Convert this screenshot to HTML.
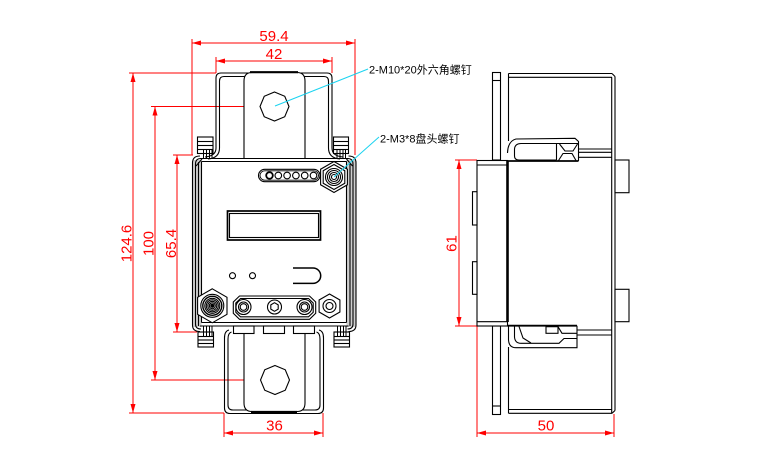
<!DOCTYPE html>
<html><head><meta charset="utf-8"><style>
html,body{margin:0;padding:0;background:#fff;}
svg{display:block;}
</style></head><body>
<svg width="771" height="473" viewBox="0 0 771 473" xmlns="http://www.w3.org/2000/svg">
<rect x="0" y="0" width="771" height="473" fill="#fff"/>

<!-- ================= DIMENSIONS (red) ================= -->
<g stroke="#ff0000" stroke-width="1" fill="none">
  <!-- 59.4 -->
  <line x1="192" y1="43" x2="355" y2="43"/>
  <line x1="192" y1="39" x2="192" y2="155"/>
  <line x1="355" y1="39" x2="355" y2="155"/>
  <!-- 42 -->
  <line x1="216" y1="61" x2="332" y2="61"/>
  <line x1="216" y1="57" x2="216" y2="73"/>
  <line x1="332" y1="57" x2="332" y2="73"/>
  <!-- 124.6 -->
  <line x1="133" y1="73" x2="133" y2="413"/>
  <line x1="129" y1="73" x2="216" y2="73"/>
  <line x1="129" y1="413" x2="224" y2="413"/>
  <!-- 100 -->
  <line x1="155" y1="106.5" x2="155" y2="380"/>
  <line x1="151" y1="106.5" x2="261" y2="106.5"/>
  <line x1="151" y1="380" x2="260" y2="380"/>
  <!-- 65.4 -->
  <line x1="177" y1="155" x2="177" y2="332"/>
  <line x1="173" y1="155" x2="193" y2="155"/>
  <line x1="173" y1="332" x2="197" y2="332"/>
  <!-- 36 -->
  <line x1="224" y1="433" x2="323" y2="433"/>
  <line x1="224" y1="413" x2="224" y2="437"/>
  <line x1="323" y1="413" x2="323" y2="437"/>
  <!-- 61 -->
  <line x1="459" y1="160" x2="459" y2="326"/>
  <line x1="455" y1="160" x2="477" y2="160"/>
  <line x1="455" y1="326" x2="477" y2="326"/>
  <!-- 50 -->
  <line x1="477" y1="433" x2="614" y2="433"/>
  <line x1="477" y1="326" x2="477" y2="437"/>
  <line x1="614" y1="414" x2="614" y2="437"/>
</g>
<g fill="#ff0000" stroke="none">
  <polygon points="192,43 201,40.5 201,45.5"/><polygon points="355,43 346,40.5 346,45.5"/>
  <polygon points="216,61 225,58.5 225,63.5"/><polygon points="332,61 323,58.5 323,63.5"/>
  <polygon points="224,433 233,430.5 233,435.5"/><polygon points="323,433 314,430.5 314,435.5"/>
  <polygon points="477,433 486,430.5 486,435.5"/><polygon points="614,433 605,430.5 605,435.5"/>
  <polygon points="133,73 130.5,82 135.5,82"/><polygon points="133,413 130.5,404 135.5,404"/>
  <polygon points="155,106.5 152.5,115.5 157.5,115.5"/><polygon points="155,380 152.5,371 157.5,371"/>
  <polygon points="177,155 174.5,164 179.5,164"/><polygon points="177,332 174.5,323 179.5,323"/>
  <polygon points="459,160 456.5,169 461.5,169"/><polygon points="459,326 456.5,317 461.5,317"/>
</g>
<g fill="#ff0000" font-family="'Liberation Sans', sans-serif" font-size="15" text-anchor="middle">
  <text x="274" y="41">59.4</text>
  <text x="274" y="59">42</text>
  <text x="274.5" y="430.5">36</text>
  <text x="546" y="430.5">50</text>
  <text transform="translate(131.5,243.5) rotate(-90)">124.6</text>
  <text transform="translate(153.5,243.5) rotate(-90)">100</text>
  <text transform="translate(176,243.5) rotate(-90)">65.4</text>
  <text transform="translate(456.5,243.5) rotate(-90)">61</text>
</g>

<!-- ================= LEFT (FRONT) VIEW ================= -->
<g fill="none" stroke="#000" stroke-width="1.1">
  <!-- top bracket -->
  <path d="M205,157 Q216,156 216,148 L216,78 Q216,73 221,73 L327,73 Q332,73 332,78 L332,148 Q332,156 343,157"/>
  <path d="M208,159 Q219.5,158 219.5,148 L219.5,81 Q219.5,76.5 224,76.5 L324,76.5 Q328.5,76.5 328.5,81 L328.5,148 Q328.5,158 340,159"/>
  <!-- top bus bar -->
  <path d="M244,158.5 L244,81 Q244,72.5 252,72.5 L297,72.5 Q305,72.5 305,81 L305,158.5" fill="#fff"/>
  <line x1="250" y1="72.2" x2="298" y2="72.2" stroke-width="2.2"/>
  <polygon points="274.5,92 284.75,96.25 289,106.5 284.75,116.75 274.5,121 264.25,116.75 260,106.5 264.25,96.25"/>

  <!-- bottom bracket -->
  <path d="M229,330 Q224.5,331 224.5,338 L224.5,408 Q224.5,413.5 230,413.5 L318,413.5 Q323.5,413.5 323.5,408 L323.5,338 Q323.5,331 319,330"/>
  <path d="M231.5,332 Q228,333 228,339 L228,405 Q228,410 233,410 L315,410 Q320,410 320,405 L320,339 Q320,333 316.5,332"/>
  <!-- bottom bus bar -->
  <path d="M244,333.5 L244,403 Q244,411.5 252,411.5 L297,411.5 Q305,411.5 305,403 L305,333.5" fill="#fff"/>
  <line x1="251" y1="412" x2="297" y2="412" stroke-width="2.2"/>
  <polygon points="275,365.5 285.25,369.75 289.5,380 285.25,390.25 275,394.5 264.75,390.25 260.5,380 264.75,369.75"/>

  <!-- body walls -->
  <rect x="192.5" y="160" width="9" height="167" fill="#cfcfcf" stroke="none"/>
  <rect x="346.5" y="160" width="9.5" height="167" fill="#cfcfcf" stroke="none"/>
  <rect x="201.5" y="161.5" width="145" height="161" fill="#fff" stroke="none"/>
  <path d="M200,156 Q192.5,156 192.5,163 L192.5,325 Q192.5,331.5 200,331.5"/>
  <path d="M201,158.5 Q195.5,158.5 195.5,164 L195.5,324 Q195.5,329 201,329"/>
  <line x1="198.5" y1="162" x2="198.5" y2="326"/>
  <line x1="201.5" y1="161.5" x2="201.5" y2="322.5"/>
  <path d="M348.5,156 Q356,156 356,163 L356,325 Q356,331.5 348.5,331.5"/>
  <path d="M347.5,158.5 Q353,158.5 353,164 L353,324 Q353,329 347.5,329"/>
  <line x1="350" y1="162" x2="350" y2="326"/>
  <line x1="346.5" y1="161.5" x2="346.5" y2="322.5"/>
  <line x1="200" y1="158.5" x2="348.5" y2="158.5"/>
  <line x1="201.5" y1="161.5" x2="346.5" y2="161.5"/>
  <line x1="201.5" y1="322.5" x2="346.5" y2="322.5"/>
  <line x1="200" y1="326" x2="348.5" y2="326"/>
  <line x1="196" y1="166" x2="202" y2="159"/>
  <line x1="352.5" y1="166" x2="346.5" y2="159"/>

  <!-- clips -->
  <g fill="#fff">
    <rect x="197.5" y="137" width="15.5" height="16.5"/>
    <rect x="333.5" y="137" width="15" height="16.5"/>
    <rect x="198" y="332" width="15.5" height="15"/>
    <rect x="334" y="332" width="15.5" height="15"/>
  </g>
  <line x1="197.5" y1="141.5" x2="213" y2="141.5"/><line x1="197.5" y1="145.5" x2="213" y2="145.5"/><line x1="197.5" y1="149.5" x2="213" y2="149.5"/>
  <line x1="333.5" y1="141.5" x2="348.5" y2="141.5"/><line x1="333.5" y1="145.5" x2="348.5" y2="145.5"/><line x1="333.5" y1="149.5" x2="348.5" y2="149.5"/>
  <line x1="198" y1="336.5" x2="213.5" y2="336.5"/><line x1="198" y1="340" x2="213.5" y2="340"/><line x1="198" y1="343.5" x2="213.5" y2="343.5"/>
  <line x1="334" y1="336.5" x2="349.5" y2="336.5"/><line x1="334" y1="340" x2="349.5" y2="340"/><line x1="334" y1="343.5" x2="349.5" y2="343.5"/>
  <g stroke-width="1">
    <line x1="203.5" y1="149.5" x2="203.5" y2="159"/><line x1="206.5" y1="149.5" x2="206.5" y2="159"/><line x1="209.5" y1="149.5" x2="209.5" y2="159"/><line x1="212" y1="149.5" x2="212" y2="159"/>
    <line x1="337" y1="149.5" x2="337" y2="159"/><line x1="340" y1="149.5" x2="340" y2="159"/><line x1="343" y1="149.5" x2="343" y2="159"/><line x1="345.5" y1="149.5" x2="345.5" y2="159"/>
    <line x1="203.5" y1="326" x2="203.5" y2="336.5"/><line x1="206.5" y1="326" x2="206.5" y2="336.5"/><line x1="209.5" y1="326" x2="209.5" y2="336.5"/><line x1="212" y1="326" x2="212" y2="336.5"/>
    <line x1="337.5" y1="326" x2="337.5" y2="336.5"/><line x1="340.5" y1="326" x2="340.5" y2="336.5"/><line x1="343.5" y1="326" x2="343.5" y2="336.5"/><line x1="346" y1="326" x2="346" y2="336.5"/>
  </g>

  <!-- terminal tabs under body -->
  <g fill="#fff">
    <rect x="233.5" y="326" width="20.5" height="7.5"/>
    <rect x="263.5" y="326" width="21" height="7.5"/>
    <rect x="293.5" y="326" width="21" height="7.5"/>
  </g>

  <!-- LED strip -->
  <rect x="258.5" y="169.3" width="61.5" height="12.4" rx="6.2"/>
  <rect x="260" y="170.8" width="58.5" height="9.4" rx="4.7" stroke-width="0.9"/>
  <circle cx="269.5" cy="175.5" r="3.3" stroke-width="1.8"/>
  <circle cx="278.3" cy="175.5" r="3.3"/>
  <circle cx="287.1" cy="175.5" r="3.3"/>
  <circle cx="295.9" cy="175.5" r="3.3"/>
  <circle cx="304.7" cy="175.5" r="3.3"/>
  <circle cx="313.5" cy="175.5" r="3.3"/>

  <!-- M3 screw -->
  <polygon points="334,161.5 347.4,169.25 347.4,184.75 334,192.5 320.6,184.75 320.6,169.25" fill="#fff"/>
  <polygon points="334,164.5 344.8,170.75 344.8,183.25 334,189.5 323.2,183.25 323.2,170.75"/>
  <circle cx="334" cy="177" r="8.5"/>
  <circle cx="334" cy="177" r="6.5"/>
  <circle cx="334" cy="177" r="4.5"/>
  <circle cx="334" cy="177" r="2.5"/>

  <!-- display -->
  <rect x="227.5" y="211" width="93" height="29" stroke-width="1.7"/>
  <rect x="229.5" y="213.5" width="89" height="24"/>

  <!-- LEDs -->
  <circle cx="232.5" cy="275.7" r="3"/>
  <circle cx="252.5" cy="275.7" r="3"/>

  <!-- ⊃ shape -->
  <path d="M293,268 L313,268 A7.7,7.7 0 0 1 313,283.4 L293,283.4" stroke-width="1.5"/>

  <!-- terminal strip -->
  <polygon points="239.5,296 309.5,296 315.7,302 315.7,313.3 309.5,319.3 239.5,319.3 233.3,313.3 233.3,302"/>
  <polygon points="240.5,298.5 308.5,298.5 313.2,303 313.2,312.3 308.5,316.8 240.5,316.8 235.8,312.3 235.8,303"/>
  <circle cx="243.5" cy="307" r="7.5"/><circle cx="243.5" cy="307" r="5"/><circle cx="243.5" cy="307" r="3.3"/>
  <circle cx="274.5" cy="307" r="7"/><polygon points="274.5,302.7 278.2,304.85 278.2,309.15 274.5,311.3 270.8,309.15 270.8,304.85" stroke-linejoin="round"/>
  <circle cx="304.5" cy="307" r="7.5"/><circle cx="304.5" cy="307" r="5"/><circle cx="304.5" cy="307" r="3.3"/>

  <!-- left gland -->
  <polygon points="212.3,288.8 227,297.3 227,314.3 212.3,322.8 197.6,314.3 197.6,297.3" fill="#fff"/>
  <circle cx="212.3" cy="305.8" r="11.5"/>
  <circle cx="212.3" cy="305.8" r="9.5" stroke-width="1.4"/>
  <circle cx="212.3" cy="305.8" r="7.5"/>
  <circle cx="212.3" cy="305.8" r="6"/>
  <circle cx="212.3" cy="305.8" r="4.5"/>
  <circle cx="212.3" cy="305.8" r="3"/>
  <circle cx="212.3" cy="305.8" r="1.5" fill="#000"/>

  <!-- right nut -->
  <polygon points="329.5,294 339.9,300 339.9,312 329.5,318 319.1,312 319.1,300" fill="#fff"/>
  <circle cx="329.5" cy="306" r="6.5"/>
  <circle cx="329.5" cy="306" r="3.5"/>
</g>

<!-- leaders -->
<g stroke="#1ad3f0" stroke-width="1" fill="none">
  <line x1="275" y1="106" x2="368" y2="69"/>
  <line x1="334" y1="177" x2="379" y2="137"/>
</g>
<g fill="#000" font-family="'Liberation Sans', 'Noto Sans CJK SC', sans-serif" font-size="11">
  <text x="369" y="73.5">2-M10*20外六角螺钉</text>
  <text x="380" y="142.5">2-M3*8盘头螺钉</text>
</g>

<!-- ================= RIGHT (SIDE) VIEW ================= -->
<g fill="none" stroke="#000" stroke-width="1.1">
  <!-- thin plate -->
  <rect x="492.5" y="72.5" width="8" height="87.5" fill="#fff"/>
  <line x1="492.5" y1="80.5" x2="500.5" y2="80.5"/>
  <rect x="492.5" y="326" width="8" height="88.5" fill="#fff"/>
  <line x1="492.5" y1="406" x2="500.5" y2="406"/>

  <!-- big right body -->
  <line x1="508.5" y1="73.5" x2="508.5" y2="141"/>
  <line x1="508.5" y1="73.5" x2="612" y2="73.5"/>
  <line x1="508.5" y1="77.3" x2="612" y2="77.3"/>
  <line x1="612" y1="73.5" x2="615" y2="76.5"/>
  <line x1="611.7" y1="77.3" x2="611.7" y2="413.3"/>
  <line x1="615" y1="76.5" x2="615" y2="410.5"/>
  <line x1="508.5" y1="409.5" x2="612" y2="409.5"/>
  <line x1="508.5" y1="413.3" x2="612" y2="413.3"/>
  <line x1="612" y1="413.3" x2="615" y2="410.5"/>
  <line x1="508.5" y1="347" x2="508.5" y2="413.3"/>

  <!-- left block -->
  <rect x="477" y="160.5" width="30.5" height="165.5" fill="#fff"/>
  <line x1="477" y1="165" x2="507.5" y2="165"/>
  <line x1="477" y1="321.7" x2="507.5" y2="321.7"/>
  <line x1="507.5" y1="161" x2="507.5" y2="322" stroke-width="2.6"/>
  <rect x="472.5" y="191.7" width="4.5" height="33.3" fill="#fff"/>
  <rect x="472.5" y="261.7" width="4.5" height="32.6" fill="#fff"/>

  <!-- right tabs -->
  <rect x="615" y="160" width="14" height="32.7" fill="#fff"/>
  <rect x="615" y="289.3" width="14" height="32.4" fill="#fff"/>

  <!-- top clip -->
  <path d="M507.5,153 Q508,141 516,139 L575,138.3 L578.5,141.5 L578.5,161"/>
  <line x1="507.5" y1="161" x2="578.5" y2="161" stroke-width="1.8"/>
  <path d="M556.5,160 L519,160 Q514.5,160 514.5,156 L514.5,149 Q515,143.5 521,143.5 L578.5,143.5"/>
  <line x1="556.5" y1="143.5" x2="556.5" y2="160"/>
  <path d="M559.5,144 L565,151 L573,151 L577.5,144"/>
  <path d="M558.5,160.5 L563,153.5 L572,153.5 L576,160.5"/>
  <line x1="578.5" y1="149" x2="611.7" y2="149"/>
  <line x1="578.5" y1="152.3" x2="611.7" y2="152.3"/>
  <line x1="578.5" y1="157.3" x2="611.7" y2="157.3"/>

  <!-- bottom clip -->
  <line x1="507.5" y1="325.7" x2="577" y2="325.7" stroke-width="1.8"/>
  <path d="M508.5,326 L508.5,340 Q509,347.7 516,347.7 L577,347.7 L577,325.7"/>
  <path d="M514.5,326 L514.5,337 Q515,343.3 521,343.3 L559,343.3 L564,338.5 L577,338.5"/>
  <path d="M519,326.5 L523,338 L531,343"/>
  <rect x="546" y="326.7" width="12" height="6.6"/>
  <path d="M558,326.7 L562,333.3 L577,333.3"/>
  <line x1="577" y1="330" x2="611.7" y2="330"/>
  <line x1="577" y1="335" x2="611.7" y2="335"/>
</g>
</svg>
</body></html>
